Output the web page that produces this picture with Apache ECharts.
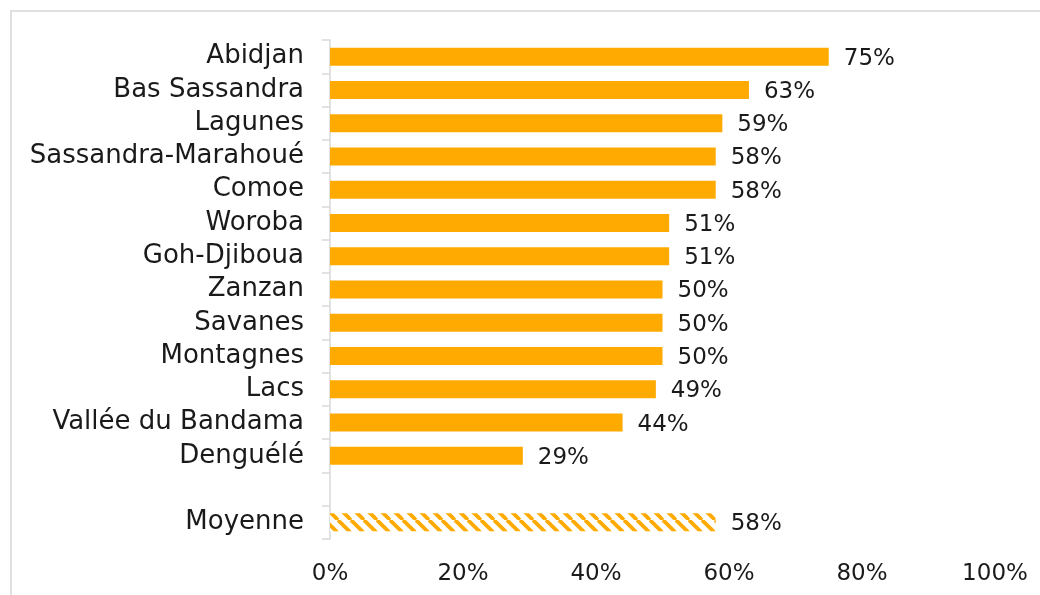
<!DOCTYPE html>
<html>
<head>
<meta charset="utf-8">
<script src="https://cdn.jsdelivr.net/npm/echarts@6/dist/echarts.min.js"></script>
<style>
html,body{margin:0;padding:0;background:#fff;}
#frame{position:absolute;left:10px;top:10px;width:1040px;height:600px;border:2px solid #e0e0e0;box-sizing:border-box;}
#chart{position:absolute;left:0;top:0;width:1040px;height:595px;}
</style>
</head>
<body>
<div id="frame"></div>
<div id="chart"></div>
<script>
const categories = ['Abidjan','Bas Sassandra','Lagunes','Sassandra-Marahoué','Comoe','Woroba','Goh-Djiboua','Zanzan','Savanes','Montagnes','Lacs','Vallée du Bandama','Denguélé','','Moyenne'];
const values = [75,63,59,58,58,51,51,50,50,50,49,44,29,null,58];
const averageIndex = 14;
const xTicks = [0,20,40,60,80,100];

const ORANGE = '#FFAA00';
function hatch(){
  const s = 13;
  const c = document.createElement('canvas');
  c.width = s; c.height = s;
  const g = c.getContext('2d');
  g.fillStyle = '#fff'; g.fillRect(0,0,s,s);
  g.strokeStyle = ORANGE; g.lineWidth = 3.8;
  for (const x of [-s,0,s]){
    g.beginPath(); g.moveTo(x,0); g.lineTo(x+s,s); g.stroke();
  }
  return c;
}
const data = values.map((v,i)=> i===averageIndex ? {value:v,itemStyle:{color:{image:hatch(),repeat:'repeat'}}} : v);

const chart = echarts.init(document.getElementById('chart'), null, {renderer:'canvas'});
const FONT = 'DejaVu Sans';
chart.setOption({
  animation:false,
  backgroundColor:'transparent',
  grid:{left:330,right:45,top:40,bottom:56,containLabel:false},
  xAxis:{type:'value',min:xTicks[0],max:xTicks[xTicks.length-1],interval:xTicks[1]-xTicks[0],
    axisLine:{show:false},axisTick:{show:false},splitLine:{show:false},
    axisLabel:{formatter:v=>v+'%',color:'#1a1a1a',fontFamily:FONT,fontSize:23,margin:24}},
  yAxis:{type:'category',data:categories,inverse:true,
    axisLine:{show:true,lineStyle:{color:'#d9d9d9',width:1.5}},
    axisTick:{show:true,interval:0,length:8,lineStyle:{color:'#d9d9d9',width:1.5}},
    axisLabel:{interval:0,color:'#1a1a1a',fontFamily:FONT,fontSize:26,margin:26}},
  series:[{type:'bar',data:data,barWidth:18,itemStyle:{color:ORANGE},
    label:{show:true,position:'right',distance:15,formatter:p=>p.value==null?'':p.value+'%',
      color:'#1a1a1a',fontFamily:FONT,fontSize:23,offset:[0,2]}}]
});
</script>
</body>
</html>
